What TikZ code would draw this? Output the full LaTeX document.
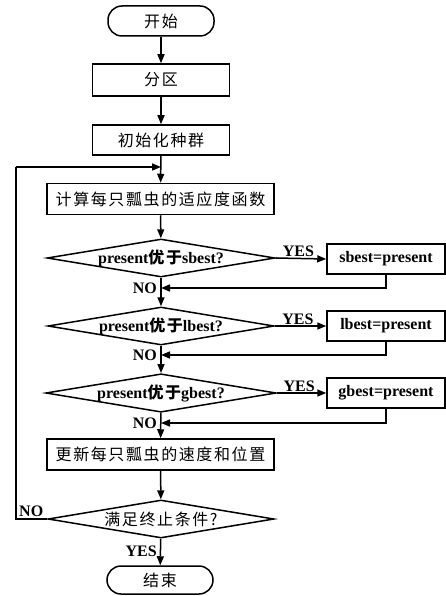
\documentclass[tikz,border=0pt]{standalone}
\usepackage{fontspec}
\setmainfont{Liberation Serif}
\newfontfamily\cjk{Noto Sans CJK SC}[LetterSpace=10]
\usetikzlibrary{shapes.geometric,arrows.meta}
\tikzset{
  base/.style={draw, line width=1.5pt, inner sep=0pt, align=center,
    font=\fontsize{16}{18}\selectfont},
  term/.style={base, rounded corners=14pt, minimum width=106pt, minimum height=30pt},
  proc/.style={base, minimum width=137pt, minimum height=32pt},
  wproc/.style={base, minimum width=227pt, minimum height=31pt},
  dec/.style={base, diamond, shape aspect=6, minimum width=225pt, minimum height=38pt},
  rbox/.style={base, minimum width=118pt, minimum height=30pt, font=\fontsize{16}{18}\selectfont\bfseries},
  lab/.style={font=\fontsize{16}{18}\selectfont\bfseries, inner sep=1pt},
  conn/.style={line width=1.5pt, -{Triangle[length=9pt,width=7pt]}},
  line/.style={line width=1.5pt}
}
\begin{document}
\begin{tikzpicture}[x=1pt,y=-1pt]
\useasboundingbox (0,0) rectangle (446,596);
\node[term] (start) at (161,21) {\cjk 开始};
\node[proc] (fq) at (161,80) {\cjk 分区};
\node[proc, minimum height=30pt] (init) at (161,140) {\cjk 初始化种群};
\node[wproc] (calc) at (160.5,199) {\cjk 计算每只瓢虫的适应度函数};
\node[dec] (d1) at (161,258) {\bfseries present{\cjk 优于}sbest?};
\node[rbox] (b1) at (386,259) {sbest=present};
\node[dec] (d2) at (161,326) {\bfseries present{\cjk 优于}lbest?};
\node[rbox] (b2) at (386,326) {lbest=present};
\node[dec] (d3) at (161,393) {\bfseries present{\cjk 优于}gbest?};
\node[rbox] (b3) at (386,393) {gbest=present};
\node[wproc] (upd) at (160.5,454.5) {\cjk 更新每只瓢虫的速度和位置};
\node[dec, minimum width=226pt] (d4) at (161,519) {\cjk 满足终止条件?};
\node[term, minimum height=28pt] (end) at (160,580) {\cjk 结束};

\coordinate (j1) at (161,288);
\coordinate (j2) at (161,355);
\coordinate (j3) at (161,423);
\coordinate (lj) at (161,167);
\coordinate (lc) at (16,167);
\coordinate (lb) at (16,519);

\draw[conn] (start) -- (fq);
\draw[conn] (fq) -- (init);
\draw[conn] (init) -- (calc);
\draw[conn] (calc) -- (d1);
\draw[conn] (d1) -- (d2);
\draw[conn] (d2) -- (d3);
\draw[conn] (d3) -- (upd);
\draw[conn] (upd) -- (d4);
\draw[conn] (d4) -- (end);

\draw[conn] (d1.east) -- node[lab, above, pos=0.45] {YES} (b1.west);
\draw[conn] (d2.east) -- node[lab, above, pos=0.45] {YES} (b2.west);
\draw[conn] (d3.east) -- node[lab, above, pos=0.45] {YES} (b3.west);

\draw[conn] (b1.south) |- (j1);
\draw[conn] (b2.south) |- (j2);
\draw[conn] (b3.south) |- (j3);

\node[lab, anchor=east] (no1) at (158,288) {NO};
\node[lab, anchor=east] (no2) at (158,355) {NO};
\node[lab, anchor=east] (no3) at (158,423) {NO};

\draw[line] (d4.west) -- (lb) -- (lc);
\draw[conn] (lc) -- (lj);
\node[lab, anchor=south west] (no4) at (18,518) {NO};
\node[lab, anchor=east] (yes4) at (158,551) {YES};
\end{tikzpicture}
\end{document}
